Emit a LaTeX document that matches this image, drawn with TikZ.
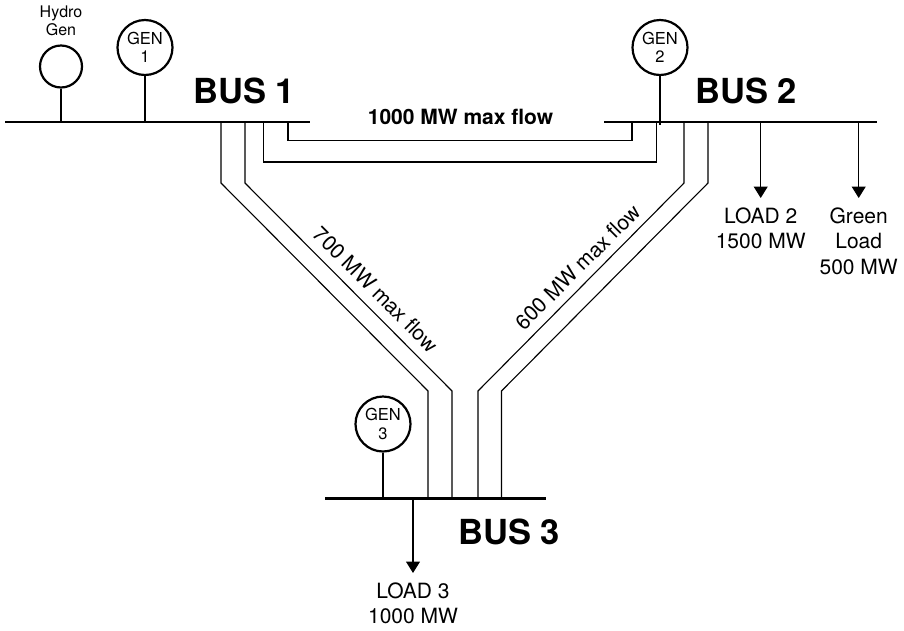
\documentclass[tikz,border=0pt]{standalone}
\usepackage{fontspec}
\setmainfont{TeX Gyre Heros}
\usetikzlibrary{arrows.meta}
\tikzset{
  busbar/.style={line width=2.6pt},
  feeder/.style={line width=1.1pt},
  loadline/.style={line width=1.1pt,-{Triangle[length=11.5pt,width=14pt]}},
  gencircle/.style={draw,circle,line width=2.2pt,minimum size=55pt,inner sep=0pt,align=center,font=\fontsize{16.5}{18.5}\selectfont},
  buslabel/.style={font=\bfseries\fontsize{34.5}{36}\selectfont},
  loadlabel/.style={anchor=north,inner sep=0pt,align=center,font=\fontsize{21}{25.5}\selectfont},
  flowlabel/.style={inner sep=0pt,font=\fontsize{21}{24}\selectfont}
}

\begin{document}
\begin{tikzpicture}[x=1pt,y=-1pt]
  \useasboundingbox (0,0) rectangle (904,630);

  % Bus bars and their tap points.
  \coordinate (busoneL) at (5,122);
  \coordinate (busoneR) at (310,122);
  \coordinate (bustwoL) at (604,122);
  \coordinate (bustwoR) at (877,122);
  \coordinate (busthreeL) at (325,498.5);
  \coordinate (busthreeR) at (546,498.5);
  \foreach \name/\x in {a/221,b/245,c/263.5,d/288}
    \coordinate (one\name) at (\x,122);
  \foreach \name/\x in {a/632,b/656.7,c/684,d/708}
    \coordinate (two\name) at (\x,122);
  \foreach \name/\x in {a/428,b/452,c/478,d/501.5}
    \coordinate (three\name) at (\x,498.5);

  % Generators.
  \node[gencircle,minimum size=42pt] (hydro) at (61,66.5) {};
  \node[inner sep=0pt,align=center,font=\fontsize{16}{18.5}\selectfont] (hydrolabel) at (61,21) {Hydro\\Gen};
  \node[gencircle] (genone) at (145,47.5) {GEN\\1};
  \node[gencircle] (gentwo) at (660,47.5) {GEN\\2};
  \node[gencircle] (genthree) at (383,424) {GEN\\3};
  \draw[feeder] (hydro) -- (hydro |- busoneL);
  \draw[feeder] (genone) -- (genone |- busoneL);
  \draw[feeder] (gentwo) -- (660,125);
  \draw[feeder] (genthree) -- (genthree |- busthreeL);

  % Transmission lines between the buses.
  \draw[feeder] (oned) |- (twoa |- 0,140.5) -- (twoa);
  \draw[feeder] (onec) |- (twob |- 0,162) -- (twob);
  \draw[feeder] (onea) -- (221,183) -- (428,391) -- (threea);
  \draw[feeder] (oneb) -- (245,183) -- (452,391) -- (threeb);
  \draw[feeder] (twoc) -- (684,183) -- (478,391) -- (threec);
  \draw[feeder] (twod) -- (708,183) -- (501.5,391) -- (threed);

  % Loads.
  \node[loadlabel] (loadtwo) at (760.7,207.5) {LOAD 2\\1500 MW};
  \node[loadlabel] (greenload) at (858.7,207.5) {Green\\Load\\500 MW};
  \node[loadlabel] (loadthree) at (413,582.5) {LOAD 3\\1000 MW};
  \coordinate (tiptwo) at (760.7,198);
  \coordinate (tipgreen) at (858.7,198);
  \coordinate (tipthree) at (413,573);
  \draw[loadline] (tiptwo |- bustwoL) -- (tiptwo);
  \draw[loadline] (tipgreen |- bustwoL) -- (tipgreen);
  \draw[loadline] (tipthree |- busthreeL) -- (tipthree);

  \draw[busbar] (busoneL) -- (busoneR);
  \draw[busbar] (bustwoL) -- (bustwoR);
  \draw[busbar] (busthreeL) -- (busthreeR);

  % Labels.
  \node[buslabel] (busonelabel) at (244,91) {BUS 1};
  \node[buslabel] (bustwolabel) at (746,91) {BUS 2};
  \node[buslabel] (busthreelabel) at (509,532) {BUS 3};
  \node[flowlabel,font=\bfseries\fontsize{21}{24}\selectfont] (flowtop) at (460.5,117) {1000 MW max flow};
  \node[flowlabel,rotate=-45] (flowleft) at (376,289.5) {700 MW max flow};
  \node[flowlabel,rotate=45] (flowright) at (578,267) {600 MW max flow};
\end{tikzpicture}
\end{document}
